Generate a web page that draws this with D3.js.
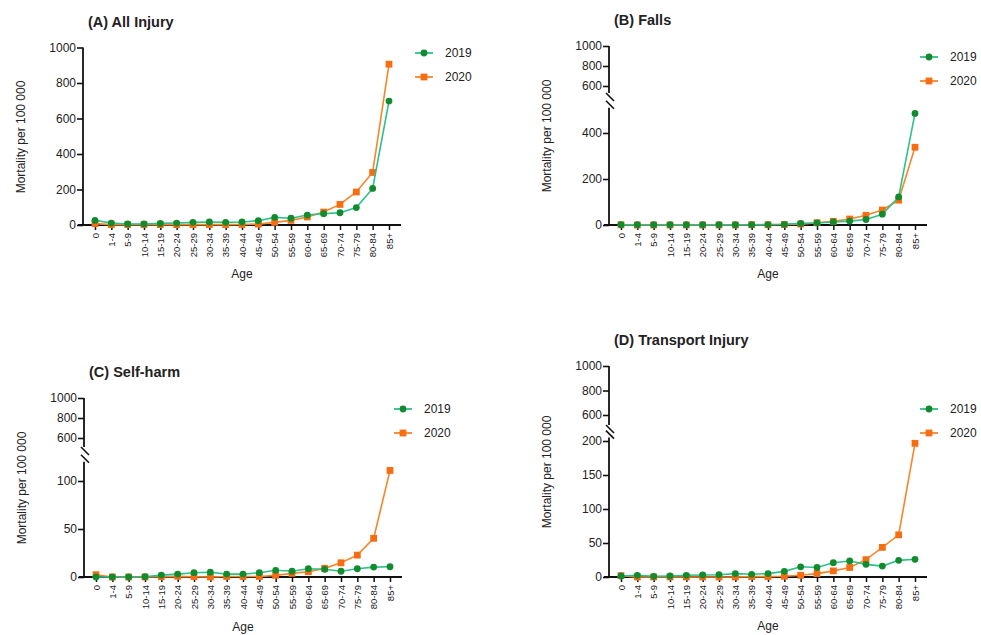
<!DOCTYPE html>
<html>
<head>
<meta charset="utf-8">
<script src="https://cdn.jsdelivr.net/npm/d3@7"></script>
<style>
  body { margin: 0; background: #fff; }
  text { font-family: "Liberation Sans", Arial, sans-serif; fill: #222; }
</style>
</head>
<body>
<div id="chart"></div>
<script>
// Data
const ageGroups = ["0", "1-4", "5-9", "10-14", "15-19", "20-24", "25-29", "30-34", "35-39", "40-44",
    "45-49", "50-54", "55-59", "60-64", "65-69", "70-74", "75-79", "80-84", "85+"];
const years = ["2019", "2020"];

const allInjury2019 = [26, 11, 6, 6, 9, 11, 15, 17, 15, 17, 24, 43, 38, 56, 64, 69, 98, 206, 698];
const allInjury2020 = [8, 2, 2, 2, 2, 2, 2, 2, 2, 3, 5, 15, 26, 45, 73, 116, 186, 296, 906];

const falls2019 = [1, 1, 1, 1, 1, 1, 1, 1, 1, 2, 3, 7, 9, 13, 17, 24, 47, 122, 485];
const falls2020 = [1, 0, 0, 0, 0, 0, 0, 0, 1, 1, 2, 4, 10, 16, 26, 42, 65, 108, 338];

const selfHarm2019 = [0, 0, 0, 0.3, 2, 3, 4.5, 5, 3, 3, 4.5, 7, 6, 8.6, 8, 6, 8.6, 10.3, 10.7];
const selfHarm2020 = [2.4, 0, 0, 0, 0.3, 0.7, 0.3, 0, 0.5, 0.5, 0.5, 1.7, 3.8, 5.5, 9, 14.8, 22.8, 40.3, 111];

const transport2019 = [1.5, 2.5, 1, 1.5, 2.5, 3, 3.4, 5, 4, 5, 8.3, 15, 14, 21, 23.5, 18.6, 16, 24.5, 26];
const transport2020 = [2, 0, 0, 0, 0, 0, 0, 0, 0.5, 0.5, 1, 2.5, 5, 9, 14, 25.5, 43.6, 62, 196.6];

const upperTicks = [600, 800, 1000];

// Styling
const lineColor = { "2019": "#2cc08c", "2020": "#f7862b" };
const markColor = { "2019": "#118b2e", "2020": "#f76d12" };

const panels = [
    { title: "(A) All Injury", series: [allInjury2019, allInjury2020], ax: 83, titleY: 27,
      bottom: 225, lowerMax: 1000, lowerTop: 47.5, lowerTicks: [0, 200, 400, 600, 800, 1000], broken: false,
      labelY: 137, ageY: 278, legendX: 415, legendY: 53 },
    { title: "(B) Falls", series: [falls2019, falls2020], ax: 609, titleY: 25,
      bottom: 225, lowerMax: 510, lowerTop: 107.7, lowerTicks: [0, 200, 400], broken: true,
      y1000: 46, y600: 86, upperEnd: 93,
      labelY: 136, ageY: 278, legendX: 920, legendY: 57 },
    { title: "(C) Self-harm", series: [selfHarm2019, selfHarm2020], ax: 84, titleY: 377,
      bottom: 577, lowerMax: 120, lowerTop: 461.8, lowerTicks: [0, 50, 100], broken: true,
      y1000: 398, y600: 438, upperEnd: 447,
      labelY: 488, ageY: 631, legendX: 394, legendY: 409 },
    { title: "(D) Transport Injury", series: [transport2019, transport2020], ax: 609, titleY: 345,
      bottom: 577, lowerMax: 205, lowerTop: 437.6, lowerTicks: [0, 50, 100, 150, 200], broken: true,
      y1000: 366, y600: 415, upperEnd: 425,
      labelY: 472, ageY: 630, legendX: 920, legendY: 409 }
];

const svg = d3.select("#chart")
    .append("svg")
    .attr("width", 981)
    .attr("height", 635)
    .style("background", "#fff");

panels.forEach(p => {
    const g = svg.append("g");

    // Scales
    const x = d3.scalePoint()
        .domain(ageGroups)
        .range([p.ax + 12, p.ax + 306]);
    const y = d3.scaleLinear()
        .domain([0, p.lowerMax])
        .range([p.bottom, p.lowerTop]);

    // Title
    g.append("text")
        .attr("x", p.ax + 5)
        .attr("y", p.titleY)
        .style("font-size", "14.5px")
        .style("font-weight", "bold")
        .text(p.title);

    // X axis
    const xAxis = g.append("g")
        .attr("transform", `translate(0,${p.bottom})`)
        .call(d3.axisBottom(x).tickSize(5).tickSizeOuter(0));
    xAxis.select(".domain").remove();
    xAxis.selectAll(".tick line").attr("stroke", "#111").attr("stroke-width", 1.5);
    xAxis.selectAll(".tick text")
        .attr("transform", "rotate(-90)")
        .attr("x", -8)
        .attr("y", 0)
        .attr("dy", "0.35em")
        .style("text-anchor", "end")
        .style("font-size", "9.5px")
        .style("font-family", "'Liberation Sans', Arial, sans-serif")
        .attr("fill", "#222");

    g.append("line")
        .attr("x1", p.ax - 5).attr("x2", p.ax + 318)
        .attr("y1", p.bottom).attr("y2", p.bottom)
        .attr("stroke", "#111").attr("stroke-width", 1.8);

    // Y axis (lower part)
    const yAxis = g.append("g")
        .attr("transform", `translate(${p.ax},0)`)
        .call(d3.axisLeft(y).tickValues(p.lowerTicks).tickSize(6).tickFormat(d3.format("d")));
    yAxis.select(".domain").remove();

    g.append("line")
        .attr("x1", p.ax).attr("x2", p.ax)
        .attr("y1", p.bottom).attr("y2", p.lowerTop)
        .attr("stroke", "#111").attr("stroke-width", 1.8);

    // Y axis upper part for broken axes
    if (p.broken) {
        const yUp = d3.scaleLinear().domain([600, 1000]).range([p.y600, p.y1000]);
        const upAxis = g.append("g")
            .attr("transform", `translate(${p.ax},0)`)
            .call(d3.axisLeft(yUp).tickValues(upperTicks).tickSize(6).tickFormat(d3.format("d")));
        upAxis.select(".domain").remove();
        styleY(upAxis);

        g.append("line")
            .attr("x1", p.ax).attr("x2", p.ax)
            .attr("y1", p.y1000).attr("y2", p.upperEnd)
            .attr("stroke", "#111").attr("stroke-width", 1.8);

        // break marks
        g.append("line")
            .attr("x1", p.ax - 3).attr("y1", p.upperEnd)
            .attr("x2", p.ax + 5).attr("y2", p.upperEnd + 8)
            .attr("stroke", "#111").attr("stroke-width", 1.6);
        g.append("line")
            .attr("x1", p.ax - 3).attr("y1", p.lowerTop - 7)
            .attr("x2", p.ax + 5).attr("y2", p.lowerTop + 1)
            .attr("stroke", "#111").attr("stroke-width", 1.6);
    }
    styleY(yAxis);

    // Axis labels
    g.append("text")
        .attr("transform", `translate(${p.ax - 62},${p.labelY}) rotate(-90)`)
        .attr("text-anchor", "middle")
        .attr("dy", "0.35em")
        .style("font-size", "12px")
        .text("Mortality per 100 000");

    g.append("text")
        .attr("x", p.ax + 159)
        .attr("y", p.ageY)
        .attr("text-anchor", "middle")
        .style("font-size", "12px")
        .text("Age");

    // Lines and markers, 2020 first so 2019 sits on top
    const line = d3.line()
        .x((d, i) => x(ageGroups[i]))
        .y(d => y(d));

    [1, 0].forEach(k => {
        const yr = years[k];
        const vals = p.series[k];
        g.append("path")
            .datum(vals)
            .attr("d", line)
            .attr("fill", "none")
            .attr("stroke", lineColor[yr])
            .attr("stroke-width", 1.6);

        if (yr === "2019") {
            g.selectAll(null)
                .data(vals)
                .enter().append("circle")
                .attr("cx", (d, i) => x(ageGroups[i]))
                .attr("cy", d => y(d))
                .attr("r", 3.4)
                .attr("fill", markColor[yr]);
        } else {
            g.selectAll(null)
                .data(vals)
                .enter().append("rect")
                .attr("x", (d, i) => x(ageGroups[i]) - 3.4)
                .attr("y", d => y(d) - 3.4)
                .attr("width", 6.8)
                .attr("height", 6.8)
                .attr("fill", markColor[yr]);
        }
    });

    // Legend
    years.forEach((yr, k) => {
        const ly = p.legendY + k * 24;
        g.append("line")
            .attr("x1", p.legendX).attr("x2", p.legendX + 18)
            .attr("y1", ly).attr("y2", ly)
            .attr("stroke", lineColor[yr])
            .attr("stroke-width", 1.8);
        if (yr === "2019") {
            g.append("circle")
                .attr("cx", p.legendX + 9).attr("cy", ly).attr("r", 3.4)
                .attr("fill", markColor[yr]);
        } else {
            g.append("rect")
                .attr("x", p.legendX + 5.6).attr("y", ly - 3.4)
                .attr("width", 6.8).attr("height", 6.8)
                .attr("fill", markColor[yr]);
        }
        g.append("text")
            .attr("x", p.legendX + 30)
            .attr("y", ly)
            .attr("dy", "0.35em")
            .style("font-size", "12px")
            .text(yr);
    });
});

function styleY(sel) {
    sel.selectAll(".tick line").attr("stroke", "#111").attr("stroke-width", 1.6);
    sel.selectAll(".tick text")
        .attr("x", -7)
        .style("font-size", "12px")
        .style("font-family", "'Liberation Sans', Arial, sans-serif")
        .attr("fill", "#222");
}
</script>
</body>
</html>
